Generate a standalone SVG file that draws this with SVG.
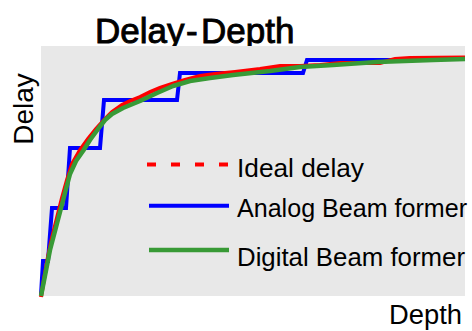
<svg xmlns="http://www.w3.org/2000/svg" width="472" height="331" viewBox="0 0 472 331">
  <style>
    .lbl { font-family: "Liberation Sans", Arial, sans-serif; fill: #000; }
    .series { fill: none; stroke-linejoin: miter; }
    .ideal { stroke: #ff0000; stroke-width: 4; }
    .analog { stroke: #0000ff; stroke-width: 4; }
    .digital { stroke: #389a36; stroke-width: 4.5; stroke-linejoin: round; }
  </style>

  <rect width="472" height="331" fill="#ffffff"/>

  <!-- title -->
  <text id="title" class="lbl" y="43" font-size="35" stroke="#000" stroke-width="0.9"><tspan x="95">Delay</tspan><tspan x="186">-</tspan><tspan x="201">Depth</tspan></text>

  <!-- plot panel -->
  <rect id="panel" x="41" y="46" width="424" height="250" fill="#e8e8e8"/>

  <!-- data curves -->
  <g id="curves">
    <path id="analog-curve" class="series analog" d="M41,295 L43,261 L48,261 L52,208 L66,208 L70,148 L100,148 L104,100 L177,100 L180,73 L303,73 L307,60 L433,60 L435,58.5 L465,58.5"/>
    <path id="ideal-curve" class="series ideal" d="M41,297 L44,279 L48,257 L52,238 L57,218 L62,198 L67,180 L72,164 L80,150 L88,139 L96,129 L104,120 L112,112 L122,105 L130,101 L140,97 L150,92 L160,88 L172,84 L185,80 L200,76 L215,74 L235,72 L260,69 L280,66 L300,66 L320,65 L340,63 L360,63 L380,63 L395,59 L410,58 L465,57.5"/>
    <path id="digital-curve" class="series digital" d="M41,296 L50,250 L60,212 L66,189 L70,174 L76,161 L83,151 L90,140 L98,129 L105,120 L112,114 L123,108 L140,101 L157,93 L173,86 L190,81 L210,78 L233,75 L270,71 L300,67 L333,65 L377,62 L433,60 L465,59"/>
  </g>

  <!-- legend -->
  <g id="legend">
    <g id="legend-ideal">
      <line class="ideal" x1="147" y1="164.5" x2="228" y2="164.5" stroke-dasharray="9 15"/>
      <text class="lbl" x="237" y="177" font-size="26" textLength="127" lengthAdjust="spacingAndGlyphs">Ideal delay</text>
    </g>
    <g id="legend-analog">
      <line class="analog" x1="149" y1="205.7" x2="229" y2="205.7" stroke-width="3.5"/>
      <text class="lbl" x="237" y="217" font-size="26" textLength="230" lengthAdjust="spacingAndGlyphs">Analog Beam former</text>
    </g>
    <g id="legend-digital">
      <line class="digital" x1="149" y1="250" x2="229" y2="250" stroke-width="4" stroke-linecap="butt"/>
      <text class="lbl" x="237" y="266" font-size="26" textLength="228" lengthAdjust="spacingAndGlyphs">Digital Beam former</text>
    </g>
  </g>

  <!-- axis labels -->
  <text id="y-label" class="lbl" font-size="28" text-anchor="middle" transform="translate(33,109) rotate(-90)">Delay</text>
  <text id="x-label" class="lbl" x="389" y="324" font-size="27" textLength="73" lengthAdjust="spacingAndGlyphs">Depth</text>
</svg>
